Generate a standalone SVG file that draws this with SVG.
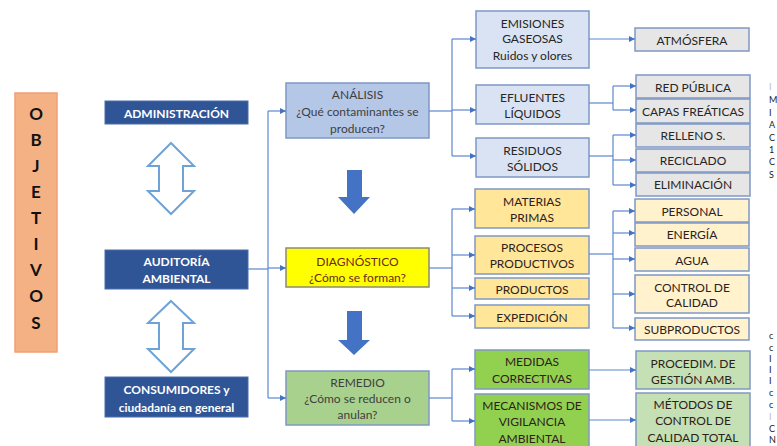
<svg xmlns="http://www.w3.org/2000/svg" width="777" height="446" viewBox="0 0 777 446">
  <style>
    text { font-family: Lato, "Liberation Sans", sans-serif; font-size: 12px; text-anchor: middle; dominant-baseline: central; fill: #262626; }
    .hdr { fill: #2f5597; stroke: #4a6fa8; stroke-width: 1; }
    .hdr-t { fill: #fff; font-weight: bold; font-size: 12px; }
    .obj { fill: #f4b183; stroke: #f0a070; stroke-width: 1.5; }
    .obj-t { font-weight: bold; font-size: 17px; fill: #111; }
    .blue { fill: #b4c7e7; stroke: #7f98c4; stroke-width: 1.5; }
    .blue-t { fill: #404040; }
    .yel { fill: #ffff00; stroke: #8a8a70; stroke-width: 1.5; }
    .yel-t { fill: #6b2a1a; }
    .grn { fill: #a9d18e; stroke: #7f98c4; stroke-width: 1.5; }
    .lblue { fill: #dae3f3; stroke: #7f98c4; stroke-width: 1.5; }
    .gold { fill: #ffe699; stroke: #7f98c4; stroke-width: 1.5; }
    .lime { fill: #92d050; stroke: #7f98c4; stroke-width: 1.5; }
    .gray { fill: #e7e6e6; stroke: #7f98c4; stroke-width: 1.5; }
    .cream { fill: #fff2cc; stroke: #7f98c4; stroke-width: 1.5; }
    .pale { fill: #c5e0b4; stroke: #7f98c4; stroke-width: 1.5; }
    .dk { fill: #2e211b; }
    .link { fill: none; stroke: #5b87cf; stroke-width: 1.2; }
    .dbl { fill: #fff; stroke: #6fa3d8; stroke-width: 2; }
    .down { fill: #4472c4; }
    .edge { font-size: 9px; text-anchor: start; fill: #222; }
    .edge-l { fill: #bbb; }
  </style>
  <defs>
    <marker id="ah" viewBox="0 0 6 6" refX="6" refY="3" markerWidth="6" markerHeight="6" orient="auto" markerUnits="userSpaceOnUse">
      <path d="M0,0 L6,3 L0,6 Z" fill="#4472c4"/>
    </marker>
  </defs>

  <!-- left column -->
  <g id="objetivos">
    <rect class="obj" x="15" y="93" width="42" height="259"/>
    <text class="obj-t" x="36" y="113">O</text>
    <text class="obj-t" x="36" y="139">B</text>
    <text class="obj-t" x="36" y="165">J</text>
    <text class="obj-t" x="36" y="191">E</text>
    <text class="obj-t" x="36" y="217">T</text>
    <text class="obj-t" x="36" y="243">I</text>
    <text class="obj-t" x="36" y="269">V</text>
    <text class="obj-t" x="36" y="295">O</text>
    <text class="obj-t" x="36" y="322">S</text>
  </g>
  <g id="administracion">
    <rect class="hdr" x="105" y="101" width="143" height="23"/>
    <text class="hdr-t" x="176.5" y="113">ADMINISTRACIÓN</text>
  </g>
  <g id="auditoria">
    <rect class="hdr" x="105" y="250" width="143" height="39"/>
    <text class="hdr-t" x="176.5" y="261">AUDITORÍA</text>
    <text class="hdr-t" x="176.5" y="278">AMBIENTAL</text>
  </g>
  <g id="consumidores">
    <rect class="hdr" x="105" y="377" width="143" height="40"/>
    <text class="hdr-t" x="176.5" y="389">CONSUMIDORES y</text>
    <text class="hdr-t" x="176.5" y="407">ciudadanía en general</text>
  </g>
  <g id="doble-flecha-1">
    <path class="dbl" d="M171,143 L194,166 L183,166 L183,191 L194,191 L171,214 L148,191 L159,191 L159,166 L148,166 Z"/>
  </g>
  <g id="doble-flecha-2">
    <path class="dbl" d="M171,301 L194,323 L183,323 L183,349 L194,349 L171,372 L148,349 L159,349 L159,323 L148,323 Z"/>
  </g>

  <!-- middle column -->
  <g id="analisis">
    <rect class="blue" x="286" y="83" width="143" height="55"/>
    <text class="blue-t" x="357.5" y="94">ANÁLISIS</text>
    <text class="blue-t" x="357.5" y="111">¿Qué contaminantes se</text>
    <text class="blue-t" x="357.5" y="128">producen?</text>
  </g>
  <g id="diagnostico">
    <rect class="yel" x="286" y="248" width="143" height="39"/>
    <text class="yel-t" x="357.5" y="261">DIAGNÓSTICO</text>
    <text class="yel-t" x="357.5" y="277">¿Cómo se forman?</text>
  </g>
  <g id="remedio">
    <rect class="grn" x="286" y="371" width="143" height="54"/>
    <text class="blue-t" x="357.5" y="382">REMEDIO</text>
    <text class="blue-t" x="357.5" y="398">¿Cómo se reducen o</text>
    <text class="blue-t" x="357.5" y="414">anulan?</text>
  </g>
  <g id="flecha-abajo-1">
    <path class="down" d="M347,170 L362,170 L362,197 L370,197 L354,214 L338,197 L347,197 Z"/>
  </g>
  <g id="flecha-abajo-2">
    <path class="down" d="M347,311 L362,311 L362,340 L370,340 L354,355 L338,340 L347,340 Z"/>
  </g>

  <!-- second level -->
  <g id="emisiones">
    <rect class="lblue" x="476" y="11" width="113" height="57"/>
    <text x="532.5" y="23">EMISIONES</text>
    <text x="532.5" y="38">GASEOSAS</text>
    <text x="532.5" y="55">Ruidos y olores</text>
  </g>
  <g id="efluentes">
    <rect class="lblue" x="476" y="85" width="113" height="39"/>
    <text x="532.5" y="97">EFLUENTES</text>
    <text x="532.5" y="113">LÍQUIDOS</text>
  </g>
  <g id="residuos">
    <rect class="lblue" x="476" y="138" width="113" height="39"/>
    <text x="532.5" y="150">RESIDUOS</text>
    <text x="532.5" y="166">SÓLIDOS</text>
  </g>
  <g id="materias">
    <rect class="gold" x="475" y="189" width="114" height="39"/>
    <text class="dk" x="532" y="201">MATERIAS</text>
    <text class="dk" x="532" y="217">PRIMAS</text>
  </g>
  <g id="procesos">
    <rect class="gold" x="475" y="236" width="114" height="38"/>
    <text class="dk" x="532" y="247">PROCESOS</text>
    <text class="dk" x="532" y="263">PRODUCTIVOS</text>
  </g>
  <g id="productos">
    <rect class="gold" x="475" y="278" width="114" height="21"/>
    <text class="dk" x="532" y="289">PRODUCTOS</text>
  </g>
  <g id="expedicion">
    <rect class="gold" x="475" y="305" width="114" height="23"/>
    <text class="dk" x="532" y="317">EXPEDICIÓN</text>
  </g>
  <g id="medidas">
    <rect class="lime" x="475" y="350" width="114" height="39"/>
    <text class="dk" x="532" y="361">MEDIDAS</text>
    <text class="dk" x="532" y="378">CORRECTIVAS</text>
  </g>
  <g id="mecanismos">
    <rect class="lime" x="475" y="394" width="114" height="60"/>
    <text class="dk" x="532" y="405">MECANISMOS DE</text>
    <text class="dk" x="532" y="421">VIGILANCIA</text>
    <text class="dk" x="532" y="438">AMBIENTAL</text>
  </g>

  <!-- third level -->
  <g id="atmosfera">
    <rect class="gray" x="635" y="28" width="114" height="23"/>
    <text x="692" y="40">ATMÓSFERA</text>
  </g>
  <g id="red-publica">
    <rect class="gray" x="636" y="75" width="114" height="23"/>
    <text x="693" y="87">RED PÚBLICA</text>
  </g>
  <g id="capas-freaticas">
    <rect class="gray" x="636" y="99" width="114" height="24"/>
    <text x="693" y="111">CAPAS FREÁTICAS</text>
  </g>
  <g id="relleno">
    <rect class="gray" x="636" y="124" width="114" height="23"/>
    <text x="693" y="135">RELLENO S.</text>
  </g>
  <g id="reciclado">
    <rect class="gray" x="636" y="149" width="114" height="23"/>
    <text x="693" y="160">RECICLADO</text>
  </g>
  <g id="eliminacion">
    <rect class="gray" x="636" y="173" width="114" height="23"/>
    <text x="693" y="184">ELIMINACIÓN</text>
  </g>
  <g id="personal">
    <rect class="cream" x="635" y="199" width="114" height="23"/>
    <text class="dk" x="692" y="211">PERSONAL</text>
  </g>
  <g id="energia">
    <rect class="cream" x="635" y="223" width="114" height="23"/>
    <text class="dk" x="692" y="234">ENERGÍA</text>
  </g>
  <g id="agua">
    <rect class="cream" x="635" y="248" width="114" height="23"/>
    <text class="dk" x="692" y="260">AGUA</text>
  </g>
  <g id="control-calidad">
    <rect class="cream" x="635" y="275" width="114" height="38"/>
    <text class="dk" x="692" y="287">CONTROL DE</text>
    <text class="dk" x="692" y="302">CALIDAD</text>
  </g>
  <g id="subproductos">
    <rect class="cream" x="635" y="318" width="114" height="22"/>
    <text class="dk" x="692" y="329">SUBPRODUCTOS</text>
  </g>
  <g id="procedim">
    <rect class="pale" x="636" y="351" width="114" height="38"/>
    <text class="dk" x="693" y="363">PROCEDIM. DE</text>
    <text class="dk" x="693" y="379">GESTIÓN AMB.</text>
  </g>
  <g id="metodos">
    <rect class="pale" x="636" y="393" width="114" height="60"/>
    <text class="dk" x="693" y="404">MÉTODOS DE</text>
    <text class="dk" x="693" y="420">CONTROL DE</text>
    <text class="dk" x="693" y="437">CALIDAD TOTAL</text>
  </g>

  <!-- letters along the right margin -->
  <g id="margen">
    <text class="edge edge-l" x="769" y="86">I</text>
    <text class="edge" x="769" y="99">M</text>
    <text class="edge" x="769" y="112">I</text>
    <text class="edge" x="769" y="124">A</text>
    <text class="edge" x="769" y="137">C</text>
    <text class="edge" x="769" y="149">1</text>
    <text class="edge" x="769" y="161">C</text>
    <text class="edge" x="769" y="174">S</text>
    <text class="edge" x="769" y="335">c</text>
    <text class="edge" x="769" y="347">c</text>
    <text class="edge" x="769" y="358">I</text>
    <text class="edge" x="769" y="369">I</text>
    <text class="edge" x="769" y="380">I</text>
    <text class="edge" x="769" y="392">c</text>
    <text class="edge" x="769" y="404">c</text>
    <text class="edge edge-l" x="769" y="416">I</text>
    <text class="edge" x="769" y="428">C</text>
    <text class="edge" x="769" y="439">N</text>
  </g>

  <!-- connectors -->
  <g id="conectores">
    <path class="link" d="M248,269 H268"/>
    <path class="link" d="M268,111 V398"/>
    <path class="link" d="M268,111 H286" marker-end="url(#ah)"/>
    <path class="link" d="M268,268 H286" marker-end="url(#ah)"/>
    <path class="link" d="M268,398 H286" marker-end="url(#ah)"/>

    <path class="link" d="M429,111 H452"/>
    <path class="link" d="M452,39 V156"/>
    <path class="link" d="M452,39 H476" marker-end="url(#ah)"/>
    <path class="link" d="M452,110 H476" marker-end="url(#ah)"/>
    <path class="link" d="M452,156 H476" marker-end="url(#ah)"/>

    <path class="link" d="M429,268 H452"/>
    <path class="link" d="M452,209 V316"/>
    <path class="link" d="M452,209 H475" marker-end="url(#ah)"/>
    <path class="link" d="M452,255 H475" marker-end="url(#ah)"/>
    <path class="link" d="M452,288 H475" marker-end="url(#ah)"/>
    <path class="link" d="M452,316 H475" marker-end="url(#ah)"/>

    <path class="link" d="M429,398 H452"/>
    <path class="link" d="M452,369 V421"/>
    <path class="link" d="M452,369 H475" marker-end="url(#ah)"/>
    <path class="link" d="M452,421 H475" marker-end="url(#ah)"/>

    <path class="link" d="M589,39 H635" marker-end="url(#ah)"/>

    <path class="link" d="M589,103 H613"/>
    <path class="link" d="M613,86 V110"/>
    <path class="link" d="M613,86 H636" marker-end="url(#ah)"/>
    <path class="link" d="M613,110 H636" marker-end="url(#ah)"/>

    <path class="link" d="M589,156 H613"/>
    <path class="link" d="M613,135 V185"/>
    <path class="link" d="M613,135 H636" marker-end="url(#ah)"/>
    <path class="link" d="M613,160 H636" marker-end="url(#ah)"/>
    <path class="link" d="M613,185 H636" marker-end="url(#ah)"/>

    <path class="link" d="M589,254 H613"/>
    <path class="link" d="M613,211 V328"/>
    <path class="link" d="M613,211 H635" marker-end="url(#ah)"/>
    <path class="link" d="M613,233 H635" marker-end="url(#ah)"/>
    <path class="link" d="M613,259 H635" marker-end="url(#ah)"/>
    <path class="link" d="M613,294 H635" marker-end="url(#ah)"/>
    <path class="link" d="M613,328 H635" marker-end="url(#ah)"/>

    <path class="link" d="M589,370 H636" marker-end="url(#ah)"/>
    <path class="link" d="M589,420 H636" marker-end="url(#ah)"/>
  </g>
</svg>
